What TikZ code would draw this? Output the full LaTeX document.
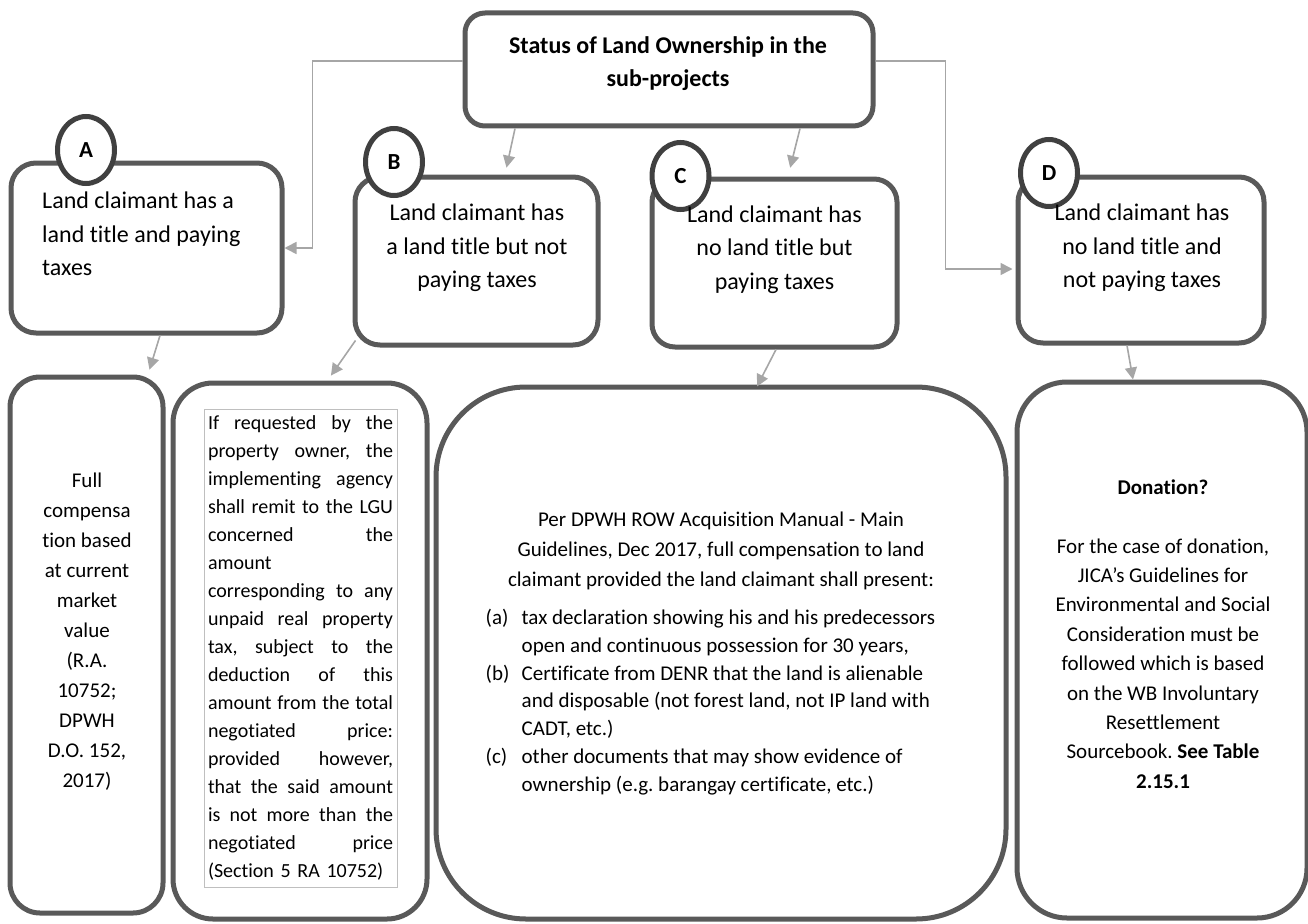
\documentclass[tikz,border=0pt]{standalone}
\usepackage{fontspec}
\setmainfont{Carlito}[Ligatures=NoCommon]
\usetikzlibrary{arrows.meta,shapes.geometric,calc}
\definecolor{boxc}{HTML}{595959}
\definecolor{circc}{HTML}{404040}
\definecolor{conc}{HTML}{A6A6A6}
\definecolor{framec}{HTML}{BFBFBF}
\newcommand{\jline}[1]{\leavevmode\hbox to 185pt{#1}}
\frenchspacing
\begin{document}
\begin{tikzpicture}[x=1pt,y=-1pt,
  box/.style={draw=boxc,line width=5pt,rectangle,inner sep=0pt,fill=white},
  badge/.style={draw=circc,line width=5pt,ellipse,fill=white,minimum width=57pt,minimum height=67pt,inner sep=0pt,font=\fontsize{23}{23}\selectfont\bfseries},
  conn/.style={draw=conc,line width=1.6pt,-{Triangle[length=12pt,width=12pt]}},
  bigtxt/.style={inner sep=0pt,font=\fontsize{24}{33.5}\selectfont},
  smalltxt/.style={inner sep=0pt,font=\fontsize{21}{30}\selectfont}
]
\useasboundingbox (0,0) rectangle (1308,923);

% top row boxes
\node[box,rounded corners=20pt,minimum width=408pt,minimum height=113pt] (top) at (669,69.5) {};
\node[box,rounded corners=25pt,minimum width=271pt,minimum height=170pt] (A) at (146.5,248) {};
\node[box,rounded corners=25pt,minimum width=243pt,minimum height=168pt] (B) at (476.5,261) {};
\node[box,rounded corners=23pt,minimum width=245pt,minimum height=168pt] (C) at (774.5,263) {};
\node[box,rounded corners=25pt,minimum width=246pt,minimum height=166pt] (D) at (1141,260) {};

% bottom row boxes
\node[box,rounded corners=30pt,minimum width=153pt,minimum height=536pt] (Abot) at (86.5,645) {};
\node[box,rounded corners=40pt,minimum width=254pt,minimum height=536pt] (Bbot) at (300,651) {};
\node[box,rounded corners=90pt,minimum width=570pt,minimum height=532pt] (Cbot) at (721,653) {};
\node[box,rounded corners=50pt,minimum width=290pt,minimum height=536pt] (Dbot) at (1162,650) {};

% badges
\node[badge] (cA) at (86,150) {A};
\node[badge] (cB) at (394,162) {B};
\node[badge] (cC) at (680.5,176) {C};
\node[badge] (cD) at (1049,173) {D};

% top row texts
\node[bigtxt,align=center,font=\fontsize{24}{33}\selectfont\bfseries] (tTop) at (668,64) {Status of Land Ownership in the\\sub-projects};
\node[bigtxt,align=left,anchor=west] (tA) at (42,234) {Land claimant has a\\land title and paying\\taxes};
\node[bigtxt,align=center] (tB) at (477,248) {Land claimant has\\a land title but not\\paying taxes};
\node[bigtxt,align=center] (tC) at (774.5,249.5) {Land claimant has\\no land title but\\paying taxes};
\node[bigtxt,align=center] (tD) at (1142,248) {Land claimant has\\no land title and\\not paying taxes};

% bottom texts
\node[smalltxt,align=center] (tAbot) at (87,632) {Full\\compensa\\tion based\\at current\\market\\value\\(R.A.\\10752;\\DPWH\\D.O. 152,\\2017)};

\node[draw=framec,line width=0.8pt,inner xsep=4pt,inner ysep=0pt,text width=185pt,minimum height=478pt,align=left,font=\fontsize{20}{28}\selectfont] (tBbot) at (300.5,648) {%
\jline{If\hfill requested\hfill by\hfill the}\\
\jline{property\hfill owner,\hfill the}\\
\jline{implementing\hfill agency}\\
\jline{shall\hfill remit\hfill to\hfill the\hfill LGU}\\
\jline{concerned\hfill the}\\
amount\\
\jline{corresponding\hfill to\hfill any}\\
\jline{unpaid\hfill real\hfill property}\\
\jline{tax,\hfill subject\hfill to\hfill the}\\
\jline{deduction\hfill of\hfill this}\\
\jline{amount\hfill from\hfill the\hfill total}\\
\jline{negotiated\hfill price:}\\
\jline{provided\hfill however,}\\
\jline{that\hfill the\hfill said\hfill amount}\\
\jline{is\hfill not\hfill more\hfill than\hfill the}\\
\jline{negotiated\hfill price}\\
(Section 5 RA 10752)};

\node[smalltxt,align=center,font=\fontsize{21}{30}\selectfont] (tCpara) at (721,551) {Per DPWH ROW Acquisition Manual - Main\\Guidelines, Dec 2017, full compensation to land\\claimant provided the land claimant shall present:};
\node[smalltxt,align=left,anchor=west,font=\fontsize{21}{27.8}\selectfont] (tClist) at (485.5,702) {%
\makebox[36pt][l]{(a)}tax declaration showing his and his predecessors\\
\hspace*{36pt}open and continuous possession for 30 years,\\
\makebox[36pt][l]{(b)}Certificate from DENR that the land is alienable\\
\hspace*{36pt}and disposable (not forest land, not IP land with\\
\hspace*{36pt}CADT, etc.)\\
\makebox[36pt][l]{(c)}other documents that may show evidence of\\
\hspace*{36pt}ownership (e.g. barangay certificate, etc.)};

\node[smalltxt,align=center,font=\fontsize{21}{29.4}\selectfont] (tDbot) at (1163,634) {\textbf{Donation?}\\[29.4pt]For the case of donation,\\JICA’s Guidelines for\\Environmental and Social\\Consideration must be\\followed which is based\\on the WB Involuntary\\Resettlement\\Sourcebook. \textbf{See Table}\\\textbf{2.15.1}};

% connectors
\draw[conn] ([yshift=8.5pt]top.west) -- ++(-150,0) |- (A.east);
\draw[conn,shorten >=3pt] ([yshift=8.5pt]top.east) -- ++(70,0) |- ([yshift=-9pt]D.west);
\draw[conn,shorten >=7pt] ([xshift=-154pt]top.south) -- ([xshift=28.5pt]B.north);
\draw[conn,shorten >=9pt] ([xshift=131pt]top.south) -- ([xshift=13.5pt]C.north);
\draw[conn,shorten >=5pt] ([xshift=13.5pt]A.south) -- ([xshift=61.5pt]Abot.north);
\draw[conn,shorten >=6pt] ([xshift=3pt,yshift=7pt]B.south west) -- ([xshift=157pt]Bbot.north west);
\draw[conn] ([xshift=1.5pt]C.south) -- ([xshift=36pt,yshift=-2pt]Cbot.north);
\draw[conn] ([xshift=-14pt]D.south) -- ([xshift=-29pt]Dbot.north);
\end{tikzpicture}
\end{document}
